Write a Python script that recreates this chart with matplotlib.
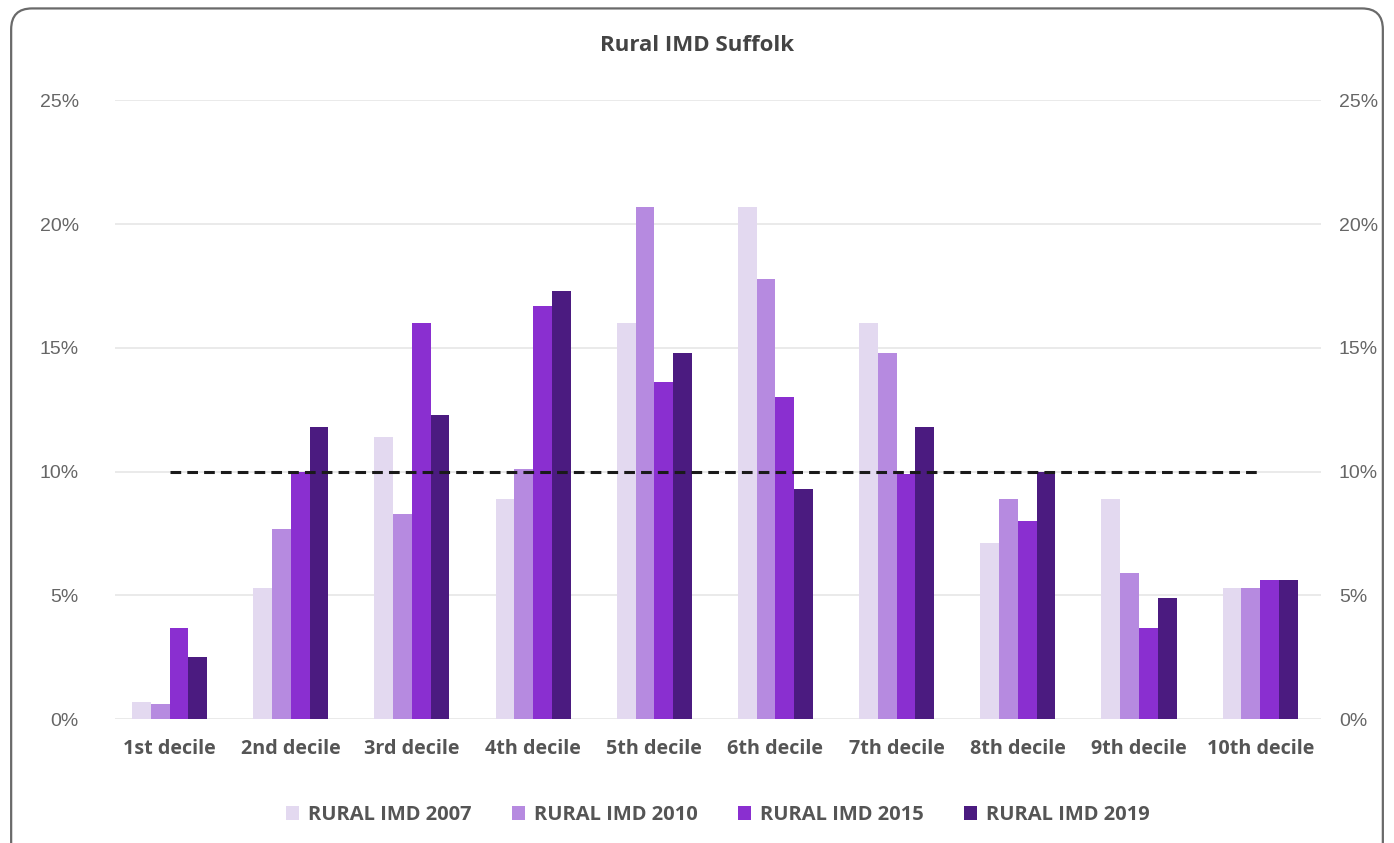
import numpy as np
import matplotlib.pyplot as plt
from matplotlib.patches import FancyBboxPatch
from matplotlib.ticker import PercentFormatter

plt.rcParams['font.family'] = ['Open Sans', 'DejaVu Sans']

#Categorias e valores (%)
deciles = ['1st decile', '2nd decile', '3rd decile', '4th decile', '5th decile',
           '6th decile', '7th decile', '8th decile', '9th decile', '10th decile']
imd_2007 = [0.7, 5.3, 11.4, 8.9, 16.0, 20.7, 16.0, 7.1, 8.9, 5.3]
imd_2010 = [0.6, 7.7, 8.3, 10.1, 20.7, 17.8, 14.8, 8.9, 5.9, 5.3]
imd_2015 = [3.7, 10.0, 16.0, 16.7, 13.6, 13.0, 9.9, 8.0, 3.7, 5.6]
imd_2019 = [2.5, 11.8, 12.3, 17.3, 14.8, 9.3, 11.8, 10.0, 4.9, 5.6]
series_names = ['RURAL IMD 2007', 'RURAL IMD 2010', 'RURAL IMD 2015', 'RURAL IMD 2019']
reference = 10

colors = ['#e3d9f0', '#b68ae0', '#8a2fd0', '#4b1b80']
text_col = '#555555'

fig = plt.figure(figsize=(13.94, 8.43), dpi=100)

#Moldura arredondada
frame = FancyBboxPatch((0.008, -0.05), 0.984, 1.04, boxstyle='round,pad=0,rounding_size=0.015',
                       transform=fig.transFigure, facecolor='none', edgecolor='#6a6a6a',
                       linewidth=1.6, mutation_aspect=1394/843, zorder=-1)
fig.patches.append(frame)

ax = fig.add_axes([0.0825, 0.147, 0.865, 0.734])
ax.set_facecolor('none')

x = np.arange(len(deciles))
w = 0.155
data = [imd_2007, imd_2010, imd_2015, imd_2019]
for i, (vals, name, c) in enumerate(zip(data, series_names, colors)):
    ax.bar(x + (i - 1.5) * w, vals, w, color=c, label=name, zorder=2)

ax.plot([x[0], x[-1]], [reference, reference], color='#1a1a1a', linestyle=(0, (3.5, 2)),
        linewidth=2.2, zorder=3)

ax.set_xlim(-0.45, 9.5)
ax.set_ylim(0, 25)
ax.set_yticks(np.arange(0, 26, 5))
ax.yaxis.set_major_formatter(PercentFormatter(decimals=0))
ax.grid(axis='y', color='#e6e6e6', linewidth=1.2, zorder=0)
ax.set_axisbelow(True)
ax.set_xticks(x)
ax.set_xticklabels(deciles, fontsize=14.2, fontweight='bold', color=text_col)
ax.tick_params(axis='x', length=0, pad=14)
ax.tick_params(axis='y', length=0, pad=26, labelsize=14, labelcolor='#666666')
for lab in ax.get_yticklabels():
    lab.set_family('Liberation Sans')
for s in ax.spines.values():
    s.set_visible(False)

ax2 = ax.twinx()
ax2.set_ylim(0, 25)
ax2.set_yticks(np.arange(0, 26, 5))
ax2.yaxis.set_major_formatter(PercentFormatter(decimals=0))
ax2.tick_params(axis='y', length=0, pad=13, labelsize=14, labelcolor='#666666')
for lab in ax2.get_yticklabels():
    lab.set_family('Liberation Sans')
for s in ax2.spines.values():
    s.set_visible(False)

fig.text(0.5, 0.946, 'Rural IMD Suffolk', ha='center', va='center', fontsize=16,
         fontweight='bold', color='#444444')

leg = ax.legend(loc='upper center', bbox_to_anchor=(0.5, -0.11), ncol=4, frameon=False,
                handlelength=0.65, handleheight=0.65, handletextpad=0.45, columnspacing=2.0,
                prop={'size': 14.5, 'weight': 'bold'})
for t in leg.get_texts():
    t.set_color(text_col)

plt.savefig('out.png', dpi=100)
plt.close()
